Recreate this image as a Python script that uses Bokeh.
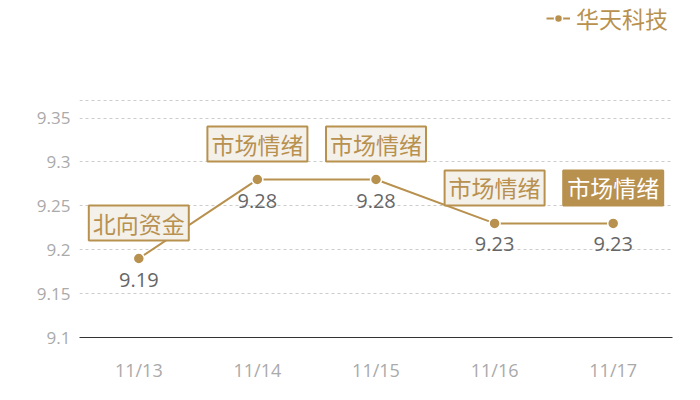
from bokeh.plotting import figure
from bokeh.models import (ColumnDataSource, FixedTicker, Label, Legend, LegendItem,
                          LabelSet, Range1d, FactorRange)
from bokeh.core.properties import value
from bokeh.embed import file_html
from bokeh.resources import INLINE

# ---- data ----
dates = ["11/13", "11/14", "11/15", "11/16", "11/17"]
prices = [9.19, 9.28, 9.28, 9.23, 9.23]
price_labels = ["9.19", "9.28", "9.28", "9.23", "9.23"]
notes = ["北向资金", "市场情绪", "市场情绪", "市场情绪", "市场情绪"]
series_name = "华天科技"
y_ticks = [9.1, 9.15, 9.2, 9.25, 9.3, 9.35]
y_tick_labels = ["9.1", "9.15", "9.2", "9.25", "9.3", "9.35"]
y_min, y_max = 9.1, 9.37

GOLD = "#b8914f"
NUM_FONT = "Open Sans"
CJK_FONT = "Noto Sans CJK SC"

# layout (pixels): value axis spans AXIS_PX from y_min to y_max; the frame is
# extended upward (LEGEND_PX) so the legend can live inside it without clipping
AXIS_PX = 237
LEGEND_PX = 100
FRAME_H = AXIS_PX + LEGEND_PX
y_top = y_min + (y_max - y_min) * FRAME_H / AXIS_PX

p = figure(x_range=FactorRange(*dates, range_padding=0),
           y_range=Range1d(y_min, y_top),
           width=692, height=FRAME_H + 55, frame_width=593, frame_height=FRAME_H,
           min_border_left=79, min_border_right=20, min_border_top=0, min_border_bottom=55,
           output_backend="svg", toolbar_location=None)
p.outline_line_color = None
p.background_fill_color = "white"
p.border_fill_color = "white"

p.yaxis.ticker = FixedTicker(ticks=y_ticks)
p.yaxis.major_label_overrides = {t: l for t, l in zip(y_ticks, y_tick_labels)}
p.yaxis.axis_line_color = None
p.yaxis.major_tick_line_color = None
p.yaxis.minor_tick_line_color = None
p.yaxis.major_label_text_color = "#aaaaaa"
p.yaxis.major_label_text_font = NUM_FONT
p.yaxis.major_label_text_font_size = "17px"
p.yaxis.major_label_standoff = 3

p.xaxis.axis_line_color = "#333333"
p.xaxis.axis_line_width = 1
p.xaxis.major_tick_line_color = None
p.xaxis.minor_tick_line_color = None
p.xaxis.major_label_text_color = "#aaaaaa"
p.xaxis.major_label_text_font = NUM_FONT
p.xaxis.major_label_text_font_size = "18px"
p.xaxis.major_label_standoff = 14

p.xgrid.grid_line_color = None
p.ygrid.ticker = FixedTicker(ticks=y_ticks[1:] + [y_max])
p.ygrid.grid_line_color = "#cccccc"
p.ygrid.grid_line_dash = "3 3"
p.ygrid.grid_line_width = 1

src = ColumnDataSource(dict(x=dates, y=prices, lab=price_labels))
ln = p.line("x", "y", source=src, line_color=GOLD, line_width=2)
sc = p.scatter("x", "y", source=src, size=11, fill_color=GOLD, line_color="white", line_width=1.5)

vl = LabelSet(x="x", y="y", text="lab", source=src, y_offset=-21,
              text_align="center", text_baseline="middle",
              text_color="#666666", text_font=value(NUM_FONT), text_font_size=value("20px"))
p.add_layout(vl)

# annotation boxes (categorical factor i sits at synthetic coordinate i + 0.5)
for i, (d, v, n) in enumerate(zip(dates, prices, notes)):
    last = i == len(dates) - 1
    lab = Label(x=i + 0.5, y=v, text=n, y_offset=18, anchor="bottom_center",
                text_align="center", text_baseline="bottom",
                text_font=CJK_FONT, text_font_size="23px",
                text_color="white" if last else GOLD,
                background_fill_color=GOLD if last else "#f4f0ea",
                border_line_color=GOLD, border_line_width=2,
                padding=dict(left=4, right=4, top=0, bottom=1))
    p.add_layout(lab)

legend = Legend(items=[LegendItem(label=series_name, renderers=[ln, sc])],
                location=(467, FRAME_H - 35), orientation="horizontal",
                label_text_font=CJK_FONT, label_text_font_size="23px",
                label_text_color=GOLD, background_fill_alpha=0, border_line_color=None,
                glyph_width=24, label_standoff=6, padding=2, margin=0)
p.add_layout(legend)

open("out.html", "w").write(file_html(p, INLINE))
